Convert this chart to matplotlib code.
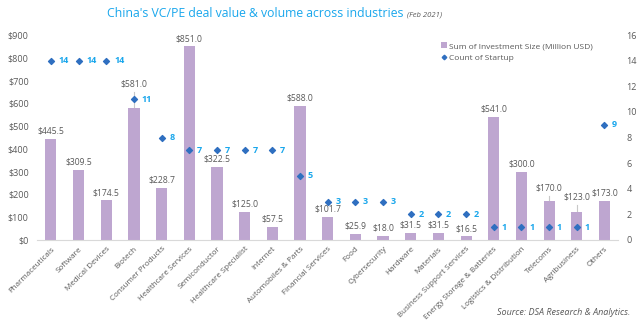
import matplotlib
matplotlib.use("Agg")
import matplotlib.pyplot as plt
from matplotlib.lines import Line2D
from matplotlib.patches import Patch

plt.rcParams['font.family'] = ['Open Sans', 'DejaVu Sans']

categories = ["Pharmaceuticals", "Software", "Medical Devices", "Biotech", "Consumer Products",
              "Healthcare Services", "Semiconductor", "Healthcare Specialist", "Internet",
              "Automobiles & Parts", "Financial Services", "Food", "Cybersecurity", "Hardware",
              "Materials", "Business Support Services", "Energy Storage & Batteries",
              "Logistics & Distribution", "Telecoms", "Agribusiness", "Others"]
investment = [445.5, 309.5, 174.5, 581.0, 228.7, 851.0, 322.5, 125.0, 57.5, 588.0, 101.7,
              25.9, 18.0, 31.5, 31.5, 16.5, 541.0, 300.0, 170.0, 123.0, 173.0]
startups = [14, 14, 14, 11, 8, 7, 7, 7, 7, 5, 3, 3, 3, 2, 2, 2, 1, 1, 1, 1, 9]
err_up = [0, 0, 0, 70, 0, 0, 0, 0, 0, 0, 0, 0, 0, 0, 0, 0, 0, 0, 24, 31, 0]

bar_color = "#bea6d0"
marker_color = "#2f6fc0"
label_color = "#1aa7ec"
grey = "#595959"

fig = plt.figure(figsize=(6.4, 3.22), dpi=100)
ax = fig.add_axes([0.058, 0.2547, 0.908, 0.6363])
x = list(range(len(categories)))

# error lines
for xi, v, e in zip(x, investment, err_up):
    if e > 0:
        ax.plot([xi, xi], [v, v + e], color="#c8c8c8", lw=0.8, zorder=1)

ax.bar(x, investment, width=0.4, color=bar_color, zorder=2)
for xi, v, e in zip(x, investment, err_up):
    ax.text(xi, v + e + 14, f"${v:.1f}", ha="center", va="bottom", fontsize=6.2, color=grey)

ax.set_xlim(-0.5, len(categories) - 0.5)
ax.set_ylim(0, 900)
ax.set_yticks(range(0, 901, 100))
ax.set_yticklabels([f"${v}" for v in range(0, 901, 100)])
ax.set_xticks(x)
ax.set_xticklabels(categories, rotation=45, ha="right", rotation_mode="anchor", fontsize=5.8, color=grey)
ax.tick_params(axis="y", labelsize=6.5, colors=grey, length=0, pad=6)
ax.tick_params(axis="x", length=0, pad=4)
for s in ["top", "right", "left"]:
    ax.spines[s].set_visible(False)
ax.spines["bottom"].set_color("#d9d9d9")

ax2 = ax.twinx()
ax2.set_ylim(0, 16)
ax2.set_yticks(range(0, 17, 2))
ax2.tick_params(axis="y", labelsize=6.5, colors=grey, length=0, pad=6)
for s in ["top", "right", "left", "bottom"]:
    ax2.spines[s].set_visible(False)
ax2.scatter(x, startups, marker="D", s=9, color=marker_color, zorder=3)
for xi, c in zip(x, startups):
    ax2.text(xi + 0.28, c, str(c), ha="left", va="center", fontsize=6.5, color=label_color, fontweight="bold")

handles = [Patch(facecolor=bar_color, edgecolor="none"),
           Line2D([], [], marker="D", linestyle="none", color=marker_color, markersize=2.3)]
ax.legend(handles, ["Sum of Investment Size (Million USD)", "Count of Startup"],
          loc="upper left", bbox_to_anchor=(0.695, 0.965), frameon=False, fontsize=6,
          handlelength=0.7, handleheight=0.7, handletextpad=0.3, labelspacing=0.5,
          borderpad=0, borderaxespad=0, labelcolor=grey)

fig.text(0.167, 0.958, "China's VC/PE deal value & volume across industries", ha="left", va="center",
         fontsize=8.8, color="#1aa7ec")
fig.text(0.636, 0.952, "(Feb 2021)", ha="left", va="center", fontsize=5.5, style="italic", color=grey)
fig.text(0.985, 0.03, "Source: DSA Research & Analytics.", ha="right", va="center",
         fontsize=6.5, style="italic", color=grey)

fig.savefig("out.png", dpi=100)
